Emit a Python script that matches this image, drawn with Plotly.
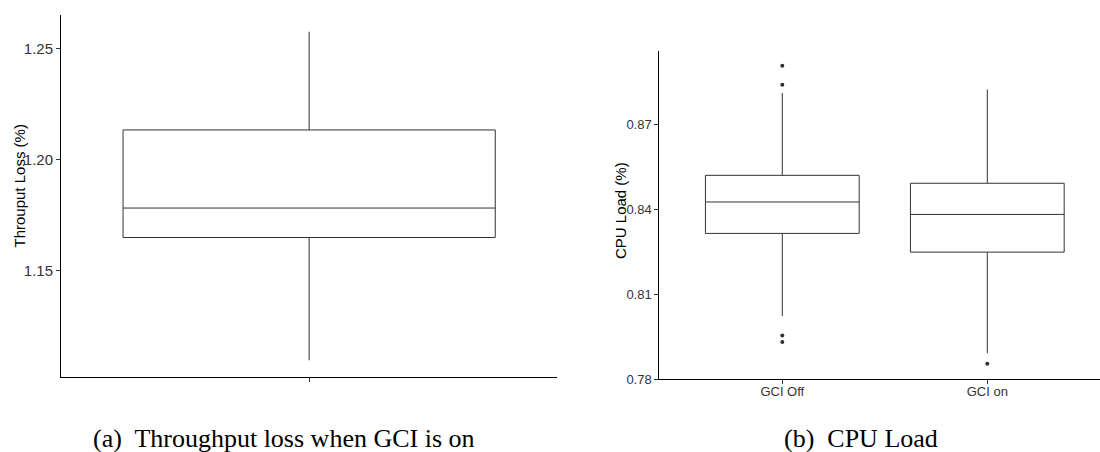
import plotly.graph_objects as go

# ---- data ----
# Panel (a): Throughput loss when GCI is on
a_cat = ["GCI on"]
a_lower = [1.1093]
a_q1 = [1.1648]
a_median = [1.1781]
a_q3 = [1.2134]
a_upper = [1.2578]

# Panel (b): CPU Load
b_cat = ["GCI Off", "GCI on"]
b_lower = [0.8022, 0.7891]
b_q1 = [0.8314, 0.8248]
b_median = [0.8425, 0.8381]
b_q3 = [0.8519, 0.8491]
b_upper = [0.8810, 0.8822]
b_out_cat = ["GCI Off", "GCI Off", "GCI Off", "GCI Off", "GCI on"]
b_out_val = [0.8906, 0.8839, 0.7954, 0.7931, 0.7854]

a_yticks = [1.15, 1.20, 1.25]
b_yticks = [0.78, 0.81, 0.84, 0.87]

W, H = 1100, 452
BOX_COL = "#333333"
TICK_TXT = "#333333"

def px_x(p):
    return p / W

def px_y(p):
    return (H - p) / H

fig = go.Figure()

a_pos = [i + 1 for i in range(len(a_cat))]
b_pos = [i + 1 for i in range(len(b_cat))]

fig.add_trace(go.Box(
    x=a_pos, q1=a_q1, median=a_median, q3=a_q3,
    lowerfence=a_lower, upperfence=a_upper,
    width=0.9, whiskerwidth=0, boxpoints=False,
    line=dict(color=BOX_COL, width=1), fillcolor="rgba(255,255,255,0)",
    xaxis="x", yaxis="y", showlegend=False, hoverinfo="skip",
))

fig.add_trace(go.Box(
    x=b_pos, q1=b_q1, median=b_median, q3=b_q3,
    lowerfence=b_lower, upperfence=b_upper,
    width=0.75, whiskerwidth=0, boxpoints=False,
    line=dict(color=BOX_COL, width=1), fillcolor="rgba(255,255,255,0)",
    xaxis="x2", yaxis="y2", showlegend=False, hoverinfo="skip",
))

fig.add_trace(go.Scatter(
    x=[b_cat.index(c) + 1 for c in b_out_cat], y=b_out_val,
    mode="markers", marker=dict(color=BOX_COL, size=4),
    xaxis="x2", yaxis="y2", showlegend=False, hoverinfo="skip",
))

axis_common = dict(
    showline=True, linecolor="black", linewidth=1,
    ticks="outside", ticklen=4, tickwidth=1, tickcolor=BOX_COL,
    showgrid=False, zeroline=False, automargin=False,
)

fig.update_layout(
    width=W, height=H,
    margin=dict(l=0, r=0, t=0, b=0, pad=0),
    paper_bgcolor="white", plot_bgcolor="white",
    font=dict(family="Liberation Sans, Arial, sans-serif", color=TICK_TXT),
    xaxis=dict(domain=[px_x(61), px_x(557.3)], range=[0.4, 1.6],
               tickvals=a_pos, ticktext=[""], anchor="y", **axis_common),
    yaxis=dict(domain=[px_y(376.7), px_y(15.3)], range=[1.1019, 1.2652],
               tickvals=a_yticks, tickformat=".2f", anchor="x",
               tickfont=dict(size=15, color=TICK_TXT), **axis_common),
    xaxis2=dict(domain=[px_x(659.3), 1.0], range=[0.4, 0.4 + (1100 - 659.3) / 205.0],
                tickvals=b_pos, ticktext=b_cat, anchor="y2", ticklabelstandoff=-4,
                tickfont=dict(size=13, color=TICK_TXT), **axis_common),
    yaxis2=dict(domain=[px_y(379.3), px_y(50.7)], range=[0.7799, 0.8959],
                tickvals=b_yticks, tickformat=".2f", anchor="x2",
                tickfont=dict(size=13, color=TICK_TXT), **axis_common),
)

ann_common = dict(xref="paper", yref="paper", showarrow=False,
                  xanchor="center", yanchor="middle")
sans = "Liberation Sans, Arial, sans-serif"
serif = "Liberation Serif, Times New Roman, serif"

fig.add_annotation(text="Throuput Loss (%)", textangle=-90, x=px_x(19), y=px_y(186.5),
                   font=dict(size=15, color="black", family=sans), **ann_common)
fig.add_annotation(text="CPU Load (%)", textangle=-90, x=px_x(620), y=px_y(211),
                   font=dict(size=15, color="black", family=sans), **ann_common)
fig.add_annotation(text="(a)  Throughput loss when GCI is on", x=px_x(283.5), y=px_y(438),
                   font=dict(size=26, color="black", family=serif), **ann_common)
fig.add_annotation(text="(b)  CPU Load", x=px_x(861), y=px_y(438),
                   font=dict(size=26, color="black", family=serif), **ann_common)

fig.write_html("out.html", config={"displayModeBar": False},
               post_script="document.body.style.margin='0';document.body.style.overflow='hidden';")
